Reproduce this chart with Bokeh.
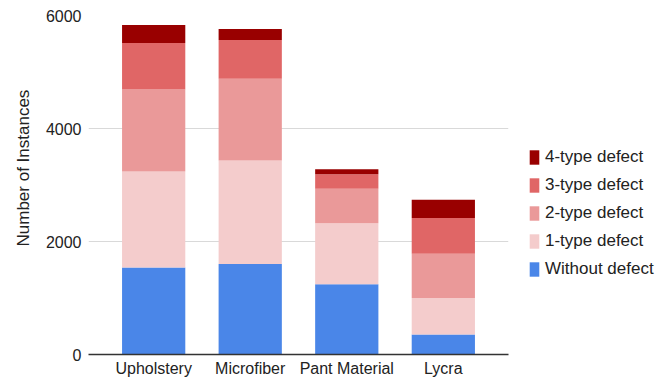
from bokeh.plotting import figure
from bokeh.models import (FactorRange, Range1d, FixedTicker, Legend, LegendItem, Title)
from bokeh.embed import file_html
from bokeh.resources import INLINE

categories = ["Upholstery", "Microfiber", "Pant Material", "Lycra"]
series_names = ["Without defect", "1-type defect", "2-type defect", "3-type defect", "4-type defect"]
without_defect = [1540, 1600, 1245, 355]
type1_defect = [1700, 1835, 1080, 645]
type2_defect = [1450, 1445, 610, 785]
type3_defect = [825, 685, 255, 630]
type4_defect = [315, 195, 90, 325]
y_ticks = [0, 2000, 4000, 6000]
colors = ["#4a86e8", "#f4cccc", "#ea9999", "#e06666", "#990000"]

FONT = "Liberation Sans"

data = {
    "cat": categories,
    "Without defect": without_defect,
    "1-type defect": type1_defect,
    "2-type defect": type2_defect,
    "3-type defect": type3_defect,
    "4-type defect": type4_defect,
}

p = figure(
    frame_width=420, frame_height=339,
    x_range=FactorRange(factors=categories, range_padding=0.175, range_padding_units="absolute"),
    y_range=Range1d(0, 6000),
    output_backend="svg", toolbar_location=None,
    min_border_left=88, min_border_right=161, min_border_top=15, min_border_bottom=0,
)

renderers = p.vbar_stack(series_names, x="cat", width=0.655, color=colors,
                         line_color=None, source=data)

p.outline_line_color = None
p.background_fill_color = "white"

# grid
p.xgrid.grid_line_color = None
p.ygrid.grid_line_color = "#d9d9d9"
p.ygrid.grid_line_width = 1
p.yaxis.ticker = FixedTicker(ticks=y_ticks)

# y axis
p.yaxis.axis_line_color = None
p.yaxis.major_tick_line_color = None
p.yaxis.minor_tick_line_color = None
p.yaxis.major_tick_out = 0
p.yaxis.major_tick_in = 0
p.yaxis.major_label_standoff = 7
p.yaxis.major_label_text_font = FONT
p.yaxis.major_label_text_font_size = "16px"
p.yaxis.major_label_text_color = "#222222"

# x axis
p.xaxis.axis_line_color = "#333333"
p.xaxis.axis_line_width = 1.3
p.xaxis.major_tick_line_color = None
p.xaxis.minor_tick_line_color = None
p.xaxis.major_tick_out = 0
p.xaxis.major_tick_in = 0
p.xaxis.major_label_standoff = 5
p.xaxis.major_label_text_font = FONT
p.xaxis.major_label_text_font_size = "16px"
p.xaxis.major_label_text_color = "#222222"

# y axis title (a left title, so that it can be offset like the reference)
ytitle = Title(text="Number of Instances", align="left", offset=108, standoff=19,
               text_font=FONT, text_font_size="17px", text_font_style="normal",
               text_color="#222222")
p.add_layout(ytitle, "left")

items = [LegendItem(label=name, renderers=[r]) for name, r in zip(series_names, renderers)]
items = items[::-1]
legend = Legend(items=items, location=(20, 75), orientation="vertical",
                glyph_width=12, glyph_height=18, label_standoff=5, spacing=8,
                label_height=20, padding=0, margin=0,
                label_text_font=FONT, label_text_font_size="17px",
                label_text_color="#222222",
                border_line_color=None, background_fill_alpha=0)
p.add_layout(legend, "right")

open("out.html", "w").write(file_html(p, INLINE))
